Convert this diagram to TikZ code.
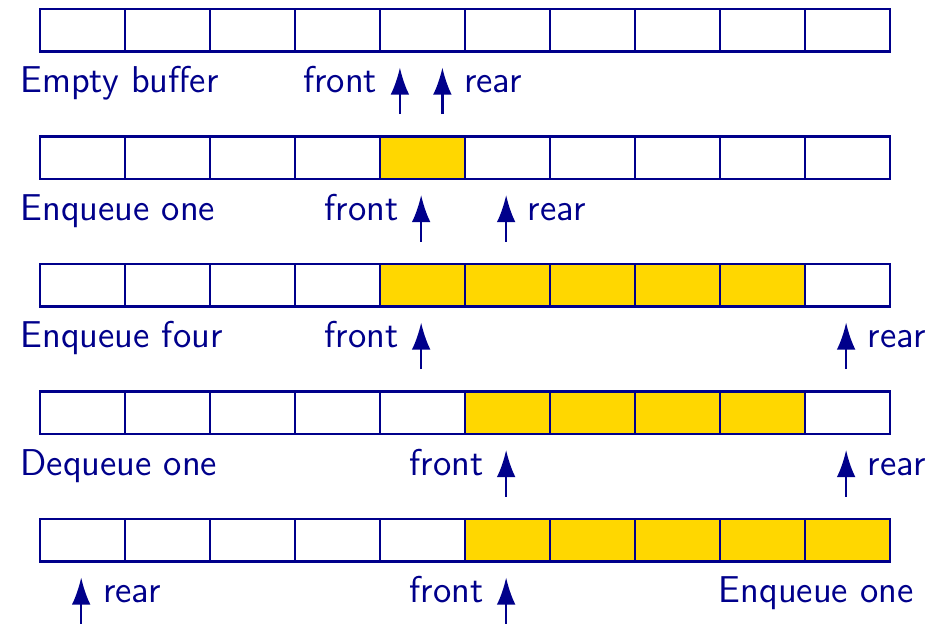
\documentclass[tikz,border=0pt]{standalone}
\usepackage{tikz}
\usetikzlibrary{arrows.meta}
\definecolor{qblue}{RGB}{0,0,139}
\definecolor{qgold}{RGB}{255,215,0}

\begin{document}
\begin{tikzpicture}[
      cell/.style={draw=qblue, line width=0.7pt, minimum width=1cm,
        minimum height=0.5cm, inner sep=0pt, anchor=north west},
      full/.style={cell, fill=qgold},
      lbl/.style={text=qblue, font=\sffamily\fontsize{12.5}{15}\selectfont, inner sep=0pt},
      ptr/.style={draw=qblue, line width=0.8pt, -{Latex[length=3.2mm,width=2.2mm]}}]
    \useasboundingbox (-0.455,0.094) rectangle (10.675,-7.247);
    % buffers: row / first full / last full
    \foreach \r/\a/\b in {0/10/-1, 1/4/4, 2/4/8, 3/5/8, 4/5/9} {
      \foreach \c in {0,...,9} {
        \ifnum\c<\a \def\sty{cell}\else\ifnum\c>\b \def\sty{cell}\else\def\sty{full}\fi\fi
        \node[\sty] (c\r-\c) at (\c,-1.5*\r) {};
      }
    }
    % row captions
    \node[lbl, anchor=base west] (cap0) at (-0.22,-1.0) {Empty buffer};
    \node[lbl, anchor=base west] (cap1) at (-0.22,-2.5) {Enqueue one};
    \node[lbl, anchor=base west] (cap2) at (-0.22,-4.0) {Enqueue four};
    \node[lbl, anchor=base west] (cap3) at (-0.22,-5.5) {Dequeue one};
    \node[lbl, anchor=base east] (cap4) at (10.3,-7.0) {Enqueue one};
    % front and rear pointers
    \foreach \r/\fx/\rx in {0/4.25/4.75, 1/4.5/5.5, 2/4.5/9.5, 3/5.5/9.5, 4/5.5/0.5} {
      \coordinate (ft\r) at (\fx,-1.5*\r-1.25);
      \coordinate (fh\r) at (\fx,-1.5*\r-0.7);
      \coordinate (rt\r) at (\rx,-1.5*\r-1.25);
      \coordinate (rh\r) at (\rx,-1.5*\r-0.7);
      \draw[ptr] (ft\r) -- (fh\r);
      \draw[ptr] (rt\r) -- (rh\r);
      \node[lbl, anchor=base east] (front\r) at (\fx-0.26,-1.5*\r-1.0) {front};
      \node[lbl, anchor=base west] (rear\r) at (\rx+0.25,-1.5*\r-1.0) {rear};
    }
  \end{tikzpicture}
\end{document}
